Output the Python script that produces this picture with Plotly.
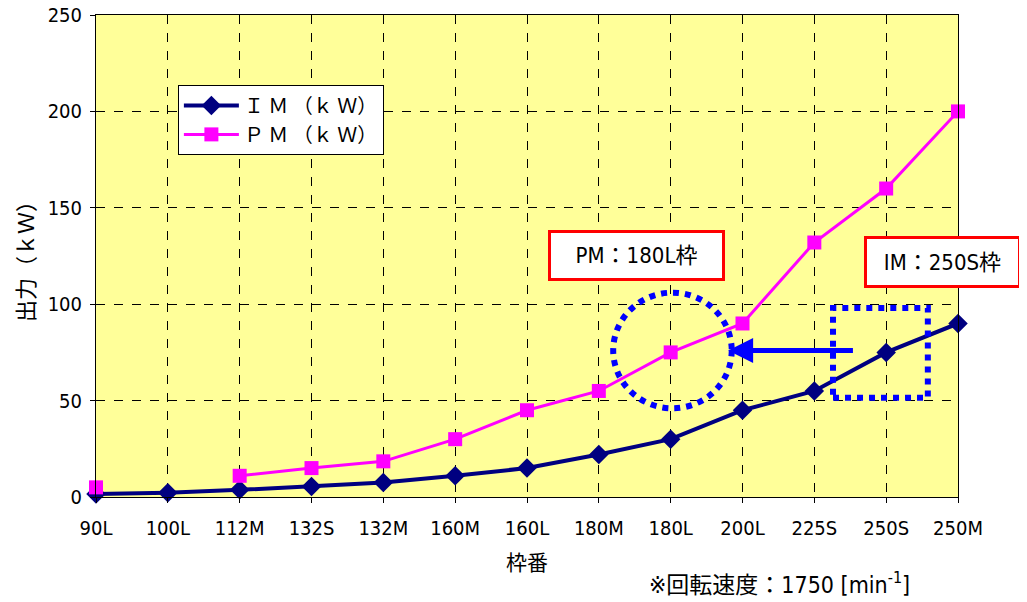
import plotly.graph_objects as go

categories = ["90L", "100L", "112M", "132S", "132M", "160M", "160L", "180M", "180L", "200L", "225S", "250S", "250M"]
im_kw = [1.5, 2.2, 3.7, 5.5, 7.5, 11, 15, 22, 30, 45, 55, 75, 90]
pm_kw = [5, None, 11, 15, 18.5, 30, 45, 55, 75, 90, 132, 160, 200]
y_ticks = [0, 50, 100, 150, 200, 250]

NARROW = "DejaVu Sans Condensed, Liberation Sans Narrow, Noto Sans CJK JP"
CJK = "Noto Sans CJK JP"
xi = list(range(len(categories)))

fig = go.Figure()
fig.add_trace(go.Scatter(
    x=xi, y=im_kw, name="Ｉ Ｍ （ｋ Ｗ）", mode="lines+markers",
    line=dict(color="#000080", width=4),
    marker=dict(symbol="diamond", size=15, color="#000080"),
    cliponaxis=False,
))
fig.add_trace(go.Scatter(
    x=xi, y=pm_kw, name="Ｐ Ｍ （ｋ Ｗ）", mode="lines+markers",
    line=dict(color="#FF00FF", width=3),
    marker=dict(symbol="square", size=14, color="#FF00FF"),
    connectgaps=False, cliponaxis=False,
))

# dotted circle around PM 180L
fig.add_shape(type="circle", xref="x", yref="y", x0=7.2, x1=8.85, y0=46, y1=106,
              line=dict(color="#0000FF", width=6, dash="dot"))
# dotted rectangle around IM 250S
fig.add_shape(type="rect", xref="x", yref="y", x0=10.26, x1=11.58, y0=51.5, y1=98,
              line=dict(color="#0000FF", width=6, dash="dot"))

# arrow
fig.add_annotation(x=8.8, y=76, ax=10.6, ay=76, xref="x", yref="y", axref="x", ayref="y",
                   showarrow=True, arrowhead=2, arrowsize=1, arrowwidth=5,
                   arrowcolor="#0000FF", text=" ")

# labels
fig.add_annotation(x=7.52, y=125.3, xref="x", yref="y", text="PM：180L枠", showarrow=False,
                   font=dict(family=NARROW, size=22, color="black"),
                   bgcolor="white", bordercolor="#FF0000", borderwidth=3,
                   width=169, height=43)
fig.add_annotation(x=11.78, y=121.9, xref="x", yref="y", text="IM：250S枠", showarrow=False,
                   font=dict(family=NARROW, size=22, color="black"),
                   bgcolor="white", bordercolor="#FF0000", borderwidth=3,
                   width=149, height=44)

# footnote
fig.add_annotation(xref="paper", yref="paper", x=0.7935, y=-0.178, xanchor="center", yanchor="middle",
                   text="※回転速度：1750 [min<sup>-1</sup>]", showarrow=False,
                   font=dict(family=NARROW, size=23, color="black"))

fig.update_layout(
    width=1019, height=594,
    margin=dict(l=88, r=69, t=7, b=105),
    paper_bgcolor="white", plot_bgcolor="#FFFF99",
    font=dict(family=NARROW, size=20, color="black"),
    showlegend=True,
    legend=dict(x=0.095, y=0.855, xanchor="left", yanchor="top",
                bgcolor="white", bordercolor="black", borderwidth=1,
                font=dict(family=CJK, size=20), tracegroupgap=0, itemwidth=55),
)
fig.update_xaxes(
    range=[0, 12], tickmode="array", tickvals=xi, ticktext=categories,
    showgrid=True, gridcolor="black", griddash="dash", gridwidth=1,
    showline=True, linecolor="black", linewidth=1, mirror=True,
    ticks="outside", ticklen=5, tickcolor="black", automargin=False,
    ticklabeloverflow="allow", ticklabelstandoff=8,
    tickfont=dict(family=NARROW, size=20),
    title=dict(text="枠番", font=dict(family=CJK, size=21), standoff=16),
    zeroline=False,
)
fig.update_yaxes(
    range=[0, 250], tickmode="array", tickvals=y_ticks,
    showgrid=True, gridcolor="black", griddash="dash", gridwidth=1,
    showline=True, linecolor="black", linewidth=1, mirror=True,
    ticks="outside", ticklen=5, tickcolor="black", automargin=False,
    ticklabeloverflow="allow", ticklabelstandoff=4,
    tickfont=dict(family=NARROW, size=20),
    title=dict(text="出力（ｋＷ）", font=dict(family=CJK, size=22), standoff=22),
    zeroline=False,
)

fig.write_html("out.html")
